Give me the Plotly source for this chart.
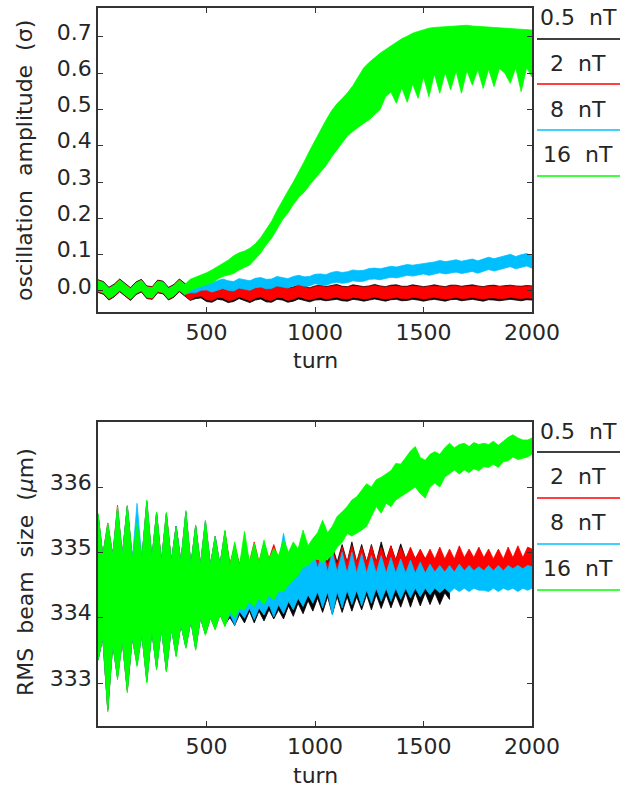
import plotly.graph_objects as go

# ---------------- data ----------------
# top panel: oscillation amplitude (sigma), sampled every 25 turns
T_TOP = list(range(0, 2001, 25))

BLACK_TOP_HI = [0.031, 0.026, 0.010, 0.019, 0.033, 0.020, 0.009, 0.025, 0.032, 0.014, 0.012, 0.030, 0.027, 0.010, 0.018, 0.033, 0.021, 0.009] + \
    [0.018, 0.020, 0.010, 0.008, 0.015, 0.016, 0.006, 0.010, 0.018, 0.012, 0.007, 0.014, 0.018, 0.010, 0.008, 0.016, 0.014, 0.008, 0.011, 0.018, 0.013, 0.009, 0.014] + \
    [0.016, 0.012, 0.015, 0.018, 0.013, 0.012, 0.017, 0.015, 0.012, 0.014, 0.018, 0.014, 0.012, 0.016, 0.017, 0.013, 0.013, 0.017, 0.015, 0.012,
     0.014, 0.017, 0.014, 0.012, 0.016, 0.016, 0.013, 0.014, 0.017, 0.014, 0.012, 0.015, 0.016, 0.013, 0.014, 0.016, 0.014, 0.013, 0.015, 0.014]
BLACK_TOP_LO = [-0.004, -0.009, -0.025, -0.016, -0.002, -0.015, -0.026, -0.010, -0.003, -0.021, -0.023, -0.005, -0.008, -0.025, -0.017, -0.002, -0.014, -0.026] + \
    [-0.021, -0.019, -0.029, -0.031, -0.023, -0.025, -0.032, -0.029, -0.021, -0.027, -0.032, -0.025, -0.022, -0.030, -0.031, -0.023, -0.025, -0.031, -0.028, -0.022, -0.026, -0.030, -0.025] + \
    [-0.024, -0.027, -0.025, -0.023, -0.027, -0.028, -0.023, -0.025, -0.028, -0.025, -0.022, -0.026, -0.028, -0.024, -0.023, -0.027, -0.026, -0.023, -0.025, -0.028,
     -0.025, -0.023, -0.026, -0.028, -0.024, -0.023, -0.027, -0.025, -0.023, -0.026, -0.028, -0.024, -0.025, -0.027, -0.025, -0.023, -0.026, -0.027, -0.024, -0.025]

RED_TOP_HI = [0.029, 0.024, 0.008, 0.017, 0.031, 0.018, 0.007, 0.023, 0.030, 0.012, 0.010, 0.028, 0.025, 0.008, 0.016, 0.031, 0.019, 0.007] + \
    [0.016, 0.018, 0.008, 0.006, 0.014, 0.013, 0.005, 0.008, 0.016, 0.011, 0.005, 0.012, 0.016, 0.008, 0.006, 0.014, 0.013, 0.006, 0.009, 0.016, 0.012, 0.007, 0.012] + \
    [0.014, 0.010, 0.012, 0.015, 0.011, 0.010, 0.014, 0.013, 0.010, 0.012, 0.015, 0.012, 0.010, 0.013, 0.014, 0.011, 0.011, 0.014, 0.013, 0.010,
     0.012, 0.014, 0.012, 0.010, 0.013, 0.014, 0.011, 0.012, 0.014, 0.012, 0.010, 0.013, 0.013, 0.011, 0.012, 0.014, 0.012, 0.011, 0.013, 0.012]
RED_TOP_LO = [-0.002, -0.007, -0.023, -0.014, 0.000, -0.013, -0.024, -0.008, -0.001, -0.019, -0.021, -0.003, -0.006, -0.023, -0.015, 0.000, -0.012, -0.024] + \
    [-0.016, -0.014, -0.024, -0.026, -0.018, -0.019, -0.027, -0.024, -0.016, -0.021, -0.027, -0.020, -0.016, -0.024, -0.026, -0.018, -0.019, -0.026, -0.023, -0.016, -0.020, -0.025, -0.020] + \
    [-0.018, -0.022, -0.020, -0.017, -0.021, -0.022, -0.018, -0.019, -0.022, -0.020, -0.017, -0.020, -0.022, -0.019, -0.018, -0.021, -0.021, -0.018, -0.019, -0.022,
     -0.020, -0.018, -0.020, -0.022, -0.019, -0.018, -0.021, -0.020, -0.018, -0.020, -0.022, -0.019, -0.019, -0.021, -0.020, -0.018, -0.020, -0.021, -0.019, -0.020]

CYAN_TOP_HI = [0.027, 0.022, 0.006, 0.015, 0.029, 0.016, 0.005, 0.021, 0.028, 0.010, 0.008, 0.026, 0.023, 0.006, 0.014, 0.029, 0.017, 0.022] + \
    [0.021, 0.028, 0.029, 0.023, 0.027, 0.033, 0.028, 0.026, 0.034, 0.032, 0.028, 0.035, 0.037, 0.032, 0.033, 0.040, 0.037, 0.034, 0.040, 0.043, 0.039, 0.040, 0.046] + \
    [0.047, 0.045, 0.051, 0.054, 0.051, 0.053, 0.058, 0.056, 0.057, 0.062, 0.063, 0.061, 0.065, 0.068, 0.066, 0.069, 0.073, 0.071, 0.073, 0.077] + \
    [0.077, 0.080, 0.084, 0.081, 0.083, 0.086, 0.082, 0.085, 0.088, 0.083, 0.089, 0.093, 0.089, 0.094, 0.097, 0.101, 0.095, 0.100, 0.103, 0.097]
CYAN_TOP_LO = [0.001, -0.004, -0.020, -0.011, 0.003, -0.010, -0.021, -0.005, 0.002, -0.016, -0.018, 0.000, -0.003, -0.020, -0.012, 0.003, -0.009, -0.005] + \
    [-0.005, 0.002, 0.003, -0.003, 0.001, 0.007, 0.002, 0.000, 0.008, 0.006, 0.002, 0.009, 0.011, 0.006, 0.007, 0.014, 0.011, 0.008, 0.014, 0.017, 0.013, 0.014, 0.020] + \
    [0.017, 0.015, 0.021, 0.024, 0.021, 0.023, 0.028, 0.026, 0.027, 0.032, 0.033, 0.031, 0.035, 0.038, 0.036, 0.039, 0.043, 0.041, 0.043, 0.047] + \
    [0.043, 0.046, 0.050, 0.047, 0.049, 0.052, 0.048, 0.051, 0.054, 0.049, 0.055, 0.059, 0.055, 0.060, 0.063, 0.067, 0.061, 0.066, 0.069, 0.063]

GREEN_TOP_HI = [0.028, 0.023, 0.007, 0.016, 0.030, 0.017, 0.006, 0.022, 0.029, 0.011, 0.009, 0.027, 0.024, 0.007, 0.015, 0.030, 0.018, 0.032] + \
    [0.038, 0.043, 0.050, 0.058, 0.068, 0.076, 0.085, 0.097, 0.105, 0.110, 0.118, 0.130, 0.147, 0.168, 0.192, 0.222, 0.250, 0.275, 0.300, 0.326, 0.356, 0.386, 0.415,
     0.442, 0.470, 0.495, 0.515, 0.530, 0.546, 0.566, 0.590, 0.615, 0.630, 0.643, 0.655, 0.665, 0.675, 0.687, 0.695, 0.702, 0.710, 0.715, 0.720,
     0.724, 0.726, 0.727, 0.728, 0.729, 0.731, 0.733, 0.732, 0.730, 0.729, 0.728, 0.727, 0.725, 0.724, 0.724, 0.724, 0.722, 0.721, 0.720, 0.719]
GREEN_TOP_LO = [0.000, -0.005, -0.021, -0.012, 0.002, -0.011, -0.022, -0.006, 0.001, -0.017, -0.019, -0.001, -0.004, -0.021, -0.013, 0.002, -0.010, 0.000] + \
    [0.008, 0.012, 0.017, 0.022, 0.032, 0.040, 0.045, 0.048, 0.058, 0.065, 0.072, 0.088, 0.105, 0.127, 0.145, 0.170, 0.196, 0.215, 0.238, 0.258, 0.272, 0.292, 0.312,
     0.328, 0.345, 0.368, 0.390, 0.408, 0.428, 0.440, 0.452, 0.462, 0.472, 0.485, 0.500, 0.535, 0.548, 0.517, 0.560, 0.520, 0.570, 0.531, 0.590,
     0.535, 0.598, 0.545, 0.602, 0.554, 0.606, 0.545, 0.607, 0.567, 0.610, 0.558, 0.611, 0.563, 0.613, 0.600, 0.572, 0.615, 0.549, 0.615, 0.590]

# bottom panel: RMS beam size (um); samples alternate between modulation peaks and troughs
T_BOT = [0, 22, 45, 68, 90, 112, 135, 158, 180, 202, 225, 248, 270, 292, 315, 338, 360, 382, 405, 428,
         450, 472, 495, 518, 540, 562, 585, 608, 630, 652, 675, 698, 720, 742, 765, 788, 810, 832, 855, 878,
         900, 922, 945, 968, 990, 1012, 1035, 1058, 1080, 1102, 1125, 1148, 1170, 1192, 1215, 1238, 1260, 1282, 1305, 1328,
         1350, 1372, 1395, 1418, 1440, 1462, 1485, 1508, 1530, 1552, 1575, 1598, 1620, 1642, 1665, 1688, 1710, 1732, 1755, 1778,
         1800, 1822, 1845, 1868, 1890, 1912, 1935, 1958, 1980, 2000]

BLACK_BOT_HI = [335.58, 334.95, 335.40, 334.95, 335.65, 334.95, 335.70, 334.90, 335.40, 334.90, 335.75, 334.90, 335.60, 334.85, 335.58, 334.85, 335.40, 334.85, 335.60, 334.80, 335.40, 334.80, 335.45, 334.80, 335.22, 334.80, 335.30] + \
    [334.80, 335.10, 334.80, 335.10, 334.80, 335.05, 334.80, 335.05, 334.85, 335.08, 334.85, 335.10, 334.90, 335.10, 334.90, 335.10, 334.90, 335.10, 334.85, 335.10,
     334.85, 335.10, 334.85, 335.12, 334.85, 335.16, 334.85, 335.12, 334.85, 335.12, 334.85, 335.16, 334.88, 335.10, 334.88, 335.13, 334.90, 335.05, 334.90, 335.02,
     334.90, 335.00, 334.88, 335.00, 334.88, 334.95]
BLACK_BOT_LO = [333.35, 333.70, 332.60, 333.60, 333.10, 333.65, 332.90, 333.70, 333.30, 333.75, 333.05, 333.80, 333.25, 333.85, 333.20, 333.85, 333.45, 333.90, 333.55, 333.95, 333.55, 334.00, 333.75, 334.00, 333.85, 334.05, 333.90] + \
    [334.00, 333.88, 334.05, 333.92, 334.10, 333.92, 334.10, 333.95, 334.12, 333.98, 334.12, 333.98, 334.18, 334.02, 334.22, 334.06, 334.26, 334.10, 334.30, 334.08,
     334.32, 334.05, 334.32, 334.08, 334.32, 334.10, 334.32, 334.12, 334.35, 334.12, 334.35, 334.14, 334.35, 334.15, 334.35, 334.16, 334.38, 334.16, 334.38, 334.18,
     334.38, 334.20, 334.38, 334.20, 334.38, 334.28]

RED_BOT_HI = [335.58, 334.95, 335.45, 334.95, 335.72, 334.95, 335.70, 334.90, 335.42, 334.90, 335.78, 334.90, 335.60, 334.85, 335.60, 334.85, 335.40, 334.85, 335.62, 334.80, 335.40, 334.80, 335.48, 334.80, 335.25, 334.80, 335.32] + \
    [334.80, 335.12, 334.80, 335.15, 334.85, 335.16, 334.85, 335.15, 334.90, 335.12, 334.90, 335.15, 334.90, 335.10, 334.90, 335.10, 334.90, 335.05, 334.85, 335.05,
     334.80, 335.05, 334.80, 335.08, 334.85, 335.10, 334.85, 335.08, 334.85, 335.10, 334.85, 335.08, 334.88, 335.10, 334.88, 335.08, 334.90, 335.08, 334.90, 335.05,
     334.90, 335.05, 334.90, 335.08, 334.90, 335.05, 334.90, 335.10, 334.92, 335.05, 334.92, 335.08, 334.92, 335.05, 334.90, 335.05, 334.90, 335.08, 334.92, 335.10,
     334.92, 335.08, 335.05]
RED_BOT_LO = [333.35, 333.70, 332.58, 333.60, 333.08, 333.65, 332.88, 333.70, 333.28, 333.75, 333.03, 333.80, 333.22, 333.85, 333.20, 333.85, 333.42, 333.90, 333.55, 333.95, 333.52, 334.00, 333.75, 334.00, 333.83, 334.05, 333.88] + \
    [334.05, 333.95, 334.10, 334.00, 334.15, 334.00, 334.15, 334.05, 334.20, 334.05, 334.20, 334.10, 334.25, 334.15, 334.30, 334.20, 334.35, 334.25, 334.40, 334.20,
     334.40, 334.15, 334.40, 334.20, 334.42, 334.25, 334.42, 334.25, 334.45, 334.28, 334.45, 334.30, 334.45, 334.30, 334.48, 334.32, 334.48, 334.35, 334.50, 334.38,
     334.50, 334.40, 334.50, 334.40, 334.50, 334.42, 334.52, 334.45, 334.52, 334.45, 334.52, 334.45, 334.52, 334.45, 334.52, 334.45, 334.52, 334.45, 334.52, 334.48,
     334.52, 334.48, 334.52]

CYAN_BOT_HI = [335.58, 334.95, 335.42, 334.95, 335.68, 334.95, 335.70, 334.90, 335.75, 334.90, 335.78, 334.90, 335.60, 334.85, 335.58, 334.85, 335.40, 334.85, 335.62, 334.80, 335.40, 334.80, 335.48, 334.80, 335.25, 334.80, 335.30] + \
    [334.75, 335.10, 334.75, 335.15, 334.80, 335.10, 334.80, 335.15, 334.85, 335.05, 334.85, 335.29, 334.90, 335.10, 334.90, 335.10, 334.85, 335.05, 334.75, 335.02,
     334.70, 335.00, 334.70, 335.00, 334.68, 335.00, 334.68, 334.98, 334.68, 334.95, 334.68, 334.95, 334.68, 334.92, 334.68, 334.90, 334.68, 334.88, 334.68, 334.85,
     334.68, 334.82, 334.70, 334.80, 334.70, 334.80, 334.70, 334.82, 334.72, 334.80, 334.72, 334.78, 334.72, 334.80, 334.72, 334.80, 334.72, 334.80, 334.75, 334.80,
     334.75, 334.80, 334.78]
CYAN_BOT_LO = [333.35, 333.70, 332.60, 333.60, 333.08, 333.65, 332.90, 333.70, 333.28, 333.75, 333.02, 333.80, 333.22, 333.85, 333.18, 333.85, 333.42, 333.90, 333.55, 333.95, 333.52, 334.00, 333.75, 334.00, 333.83, 334.05, 333.88] + \
    [334.05, 333.89, 334.10, 333.99, 334.15, 333.97, 334.15, 334.04, 334.20, 334.01, 334.20, 334.06, 334.25, 334.12, 334.30, 334.17, 334.35, 334.22, 334.40, 334.15,
     334.40, 334.04, 334.40, 334.15, 334.42, 334.20, 334.42, 334.18, 334.42, 334.22, 334.45, 334.25, 334.45, 334.25, 334.45, 334.28, 334.45, 334.30, 334.45, 334.32,
     334.45, 334.35, 334.45, 334.38, 334.45, 334.38, 334.45, 334.40, 334.45, 334.40, 334.45, 334.42, 334.42, 334.40, 334.45, 334.40, 334.45, 334.42, 334.45, 334.40,
     334.45, 334.42, 334.45]

GREEN_BOT_HI = [335.60, 334.95, 335.45, 334.95, 335.70, 334.95, 335.72, 334.90, 335.45, 334.90, 335.80, 334.90, 335.62, 334.85, 335.61, 334.85, 335.39, 334.85, 335.64, 334.80,
                335.42, 334.80, 335.49, 334.80, 335.24, 334.80, 335.34, 334.80, 335.16, 334.80, 335.32, 334.85, 335.14, 334.85, 335.19, 334.90, 335.06, 334.95, 335.19, 335.00,
                335.16, 335.05, 335.34, 335.10, 335.21] + \
    [335.30, 335.49, 335.30, 335.40, 335.55, 335.62, 335.70, 335.80, 335.85, 335.95, 336.05, 336.00, 336.11, 336.15, 336.20, 336.25, 336.36, 336.35, 336.45, 336.55,
     336.62, 336.45, 336.41, 336.50, 336.54, 336.50, 336.60, 336.67, 336.60, 336.65, 336.67, 336.62, 336.68, 336.65, 336.67, 336.65, 336.70, 336.64, 336.70, 336.76,
     336.80, 336.75, 336.72, 336.72, 336.75]
GREEN_BOT_LO = [333.35, 333.70, 332.56, 333.60, 333.05, 333.65, 332.85, 333.70, 333.25, 333.75, 333.00, 333.80, 333.20, 333.85, 333.17, 333.85, 333.40, 333.90, 333.53, 333.95,
                333.50, 334.00, 333.73, 334.00, 333.81, 334.05, 333.86, 334.10, 334.00, 334.15, 334.12, 334.25, 334.17, 334.30, 334.20, 334.35, 334.27, 334.40, 334.40, 334.50,
                334.58, 334.65, 334.78, 334.80, 334.88] + \
    [334.90, 334.84, 334.90, 334.95, 335.08, 335.15, 335.29, 335.25, 335.30, 335.34, 335.40, 335.55, 335.70, 335.60, 335.75, 335.70, 335.80, 335.85, 335.90, 335.95,
     336.00, 335.90, 335.83, 336.00, 336.06, 336.00, 336.15, 336.20, 336.26, 336.20, 336.26, 336.22, 336.28, 336.25, 336.31, 336.30, 336.35, 336.30, 336.39, 336.40,
     336.46, 336.42, 336.44, 336.46, 336.50]

LABELS = ["0.5 nT", "2 nT", "8 nT", "16 nT"]
COLORS = ["#000000", "#ff0000", "#00bfff", "#00ff00"]

X_TICKS = [500, 1000, 1500, 2000]
TOP_TICKS = [0.0, 0.1, 0.2, 0.3, 0.4, 0.5, 0.6, 0.7]
TOP_TICKTEXT = ["0.0", "0.1", "0.2", "0.3", "0.4", "0.5", "0.6", "0.7"]
BOT_TICKS = [333, 334, 335, 336]

# ---------------- figure ----------------
W, H = 620, 789
FONT = "DejaVu Sans"
WEIGHT = 400
TXT = "#262626"


def fx(p):
    return p / W


def fy(p):
    return 1 - p / H


def tfont(size=22):
    return dict(family=FONT, size=size, color=TXT, weight=WEIGHT)


top = [(BLACK_TOP_LO, BLACK_TOP_HI), (RED_TOP_LO, RED_TOP_HI), (CYAN_TOP_LO, CYAN_TOP_HI), (GREEN_TOP_LO, GREEN_TOP_HI)]
bot = [(BLACK_BOT_LO, BLACK_BOT_HI), (RED_BOT_LO, RED_BOT_HI), (CYAN_BOT_LO, CYAN_BOT_HI), (GREEN_BOT_LO, GREEN_BOT_HI)]

fig = go.Figure()
for (lo, hi), c, name in zip(top, COLORS, LABELS):
    t = T_TOP[:len(hi)]
    fig.add_trace(go.Scatter(x=t + t[::-1], y=hi + lo[::-1], fill="toself", fillcolor=c, mode="lines",
                             line=dict(color=c, width=0.8), name=name, showlegend=False, hoverinfo="skip",
                             xaxis="x", yaxis="y"))
for (lo, hi), c, name in zip(bot, COLORS, LABELS):
    t = T_BOT[:len(hi)]
    fig.add_trace(go.Scatter(x=t + t[::-1], y=hi + lo[::-1], fill="toself", fillcolor=c, mode="lines",
                             line=dict(color=c, width=0.8), name=name, showlegend=False, hoverinfo="skip",
                             xaxis="x2", yaxis="y2"))

axis_common = dict(showgrid=False, zeroline=False, showline=True, linecolor="#333333", linewidth=1.5,
                   mirror="ticks", ticks="inside", ticklen=5, tickcolor="#333333", tickwidth=1.2,
                   tickfont=tfont(), automargin=False)

fig.update_layout(
    template="none",
    width=W, height=H, autosize=False, margin=dict(l=0, r=0, t=0, b=0, pad=0),
    paper_bgcolor="white", plot_bgcolor="white",
    font=tfont(),
    xaxis=dict(domain=[fx(98), fx(532)], anchor="y", range=[0, 2000], tickvals=X_TICKS, **axis_common),
    yaxis=dict(domain=[fy(312), fy(8)], anchor="x", range=[-0.0579, 0.7796], tickvals=TOP_TICKS,
               ticktext=TOP_TICKTEXT, ticklabelshift=-5, **axis_common),
    xaxis2=dict(domain=[fx(98), fx(532)], anchor="y2", range=[0, 2000], tickvals=X_TICKS, **axis_common),
    yaxis2=dict(domain=[fy(726), fy(422)], anchor="x2", range=[332.342, 336.995], tickvals=BOT_TICKS,
                ticklabelshift=-5, **axis_common),
)

ann = []
shapes = []
# axis titles
ann.append(dict(text="turn", x=fx(315), y=fy(361), xref="paper", yref="paper", showarrow=False,
                font=tfont(), xanchor="center", yanchor="middle"))
ann.append(dict(text="turn", x=fx(315), y=fy(775), xref="paper", yref="paper", showarrow=False,
                font=tfont(), xanchor="center", yanchor="middle"))
ann.append(dict(text="oscillation\u00a0 amplitude\u00a0 (σ)", x=fx(25), y=fy(161), xref="paper", yref="paper",
                showarrow=False, textangle=-90, font=tfont(), xanchor="center", yanchor="middle"))
ann.append(dict(text="RMS\u00a0 beam\u00a0 size\u00a0 (<i>μ</i>m)", x=fx(25), y=fy(572), xref="paper", yref="paper",
                showarrow=False, textangle=-90, font=tfont(), xanchor="center", yanchor="middle"))

# custom legends (text above a coloured rule)
legend_text_y = {"top": [17, 63, 109, 155], "bot": [431, 476, 522, 568]}
legend_line_y = {"top": [39, 84, 130, 176], "bot": [452, 498, 544, 590]}
for key in ("top", "bot"):
    for lab, c, ty, ly in zip(LABELS, COLORS, legend_text_y[key], legend_line_y[key]):
        ann.append(dict(text=lab.replace(" ", "\u00a0 "), x=fx(578), y=fy(ty), xref="paper", yref="paper",
                        showarrow=False, font=tfont(), xanchor="center", yanchor="middle"))
        shapes.append(dict(type="line", xref="paper", yref="paper", x0=fx(537), x1=fx(620), y0=fy(ly), y1=fy(ly),
                           line=dict(color=c, width=1.5)))

fig.update_layout(annotations=ann, shapes=shapes)
fig.write_html("out.html", config={"responsive": False, "displayModeBar": False},
               post_script="document.body.style.margin='0';document.body.style.overflow='hidden';")
